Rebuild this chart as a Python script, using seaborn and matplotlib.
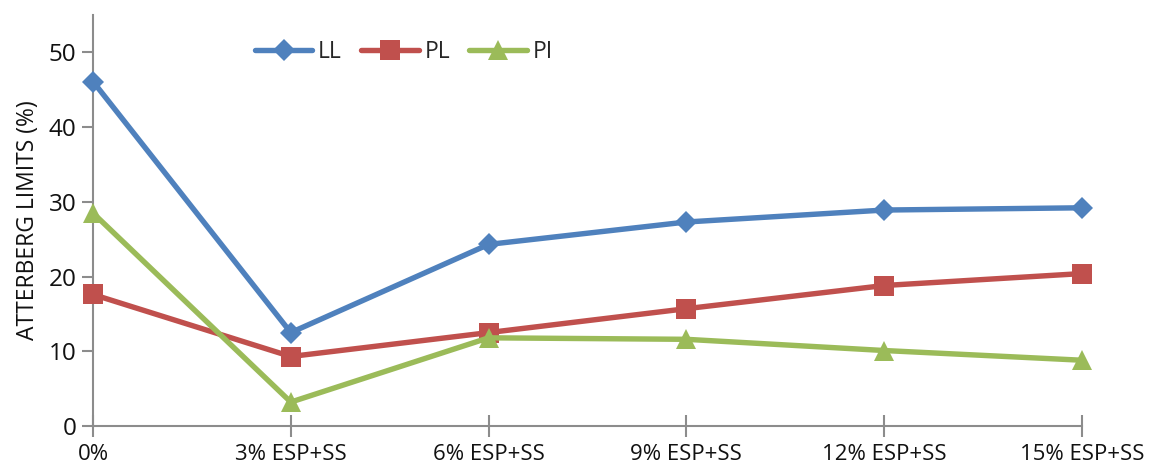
import matplotlib
matplotlib.use("Agg")
import matplotlib.pyplot as plt
import seaborn as sns
import pandas as pd

categories = ["0%", "3% ESP+SS", "6% ESP+SS", "9% ESP+SS", "12% ESP+SS", "15% ESP+SS"]
ll = [46.1, 12.5, 24.3, 27.3, 28.9, 29.2]
pl = [17.6, 9.3, 12.5, 15.7, 18.8, 20.4]
pi = [28.5, 3.2, 11.8, 11.6, 10.1, 8.8]
series_names = ["LL", "PL", "PI"]
y_ticks = [0, 10, 20, 30, 40, 50]

sns.set_theme(style="white")
plt.rcParams["font.family"] = ["Open Sans", "DejaVu Sans"]

frames = []
for name, vals in zip(series_names, [ll, pl, pi]):
    frames.append(pd.DataFrame({"pos": range(len(categories)), "value": vals, "series": name}))
df = pd.concat(frames, ignore_index=True)

palette = {"LL": "#4F81BD", "PL": "#C0504D", "PI": "#9BBB59"}
markers = {"LL": "D", "PL": "s", "PI": "^"}
sizes = {"LL": 11, "PL": 14, "PI": 15}

fig = plt.figure(figsize=(11.51, 4.68), dpi=100)
ax = fig.add_axes([93 / 1151, 1 - 426 / 468, (1082 - 93) / 1151, (426 - 15) / 468])

for name in series_names:
    sub = df[df["series"] == name]
    sns.lineplot(data=sub, x="pos", y="value", ax=ax, color=palette[name],
                 marker=markers[name], markersize=sizes[name], markeredgewidth=0,
                 linewidth=3.9, label=name, clip_on=False, zorder=3)

ax.set_xlim(0, len(categories) - 1)
ax.set_ylim(0, 55)
ax.set_xticks(range(len(categories)))
ax.set_xticklabels(categories)
ax.set_yticks(y_ticks)
ax.set_xlabel("")
ax.set_ylabel("ATTERBERG LIMITS (%)", fontsize=16.5, color="#111111", labelpad=6)

axis_color = "#8C8C8C"
for side in ["top", "right"]:
    ax.spines[side].set_visible(False)
for side in ["left", "bottom"]:
    ax.spines[side].set_color(axis_color)
    ax.spines[side].set_linewidth(1.5)

ax.tick_params(axis="x", direction="inout", length=16, width=1.5, color=axis_color,
               labelsize=16, labelcolor="#111111", pad=5)
ax.tick_params(axis="y", direction="out", length=8, width=1.5, color=axis_color,
               labelsize=17.5, labelcolor="#111111", pad=4)
ax.tick_params(axis="x", bottom=True)
ax.tick_params(axis="y", left=True)

ax.legend(loc="upper left", bbox_to_anchor=(0.143, 0.99), ncol=3, frameon=False,
          fontsize=16.5, handlelength=2.5, columnspacing=0.85, handletextpad=0.25)

fig.savefig("out.png", dpi=100)
